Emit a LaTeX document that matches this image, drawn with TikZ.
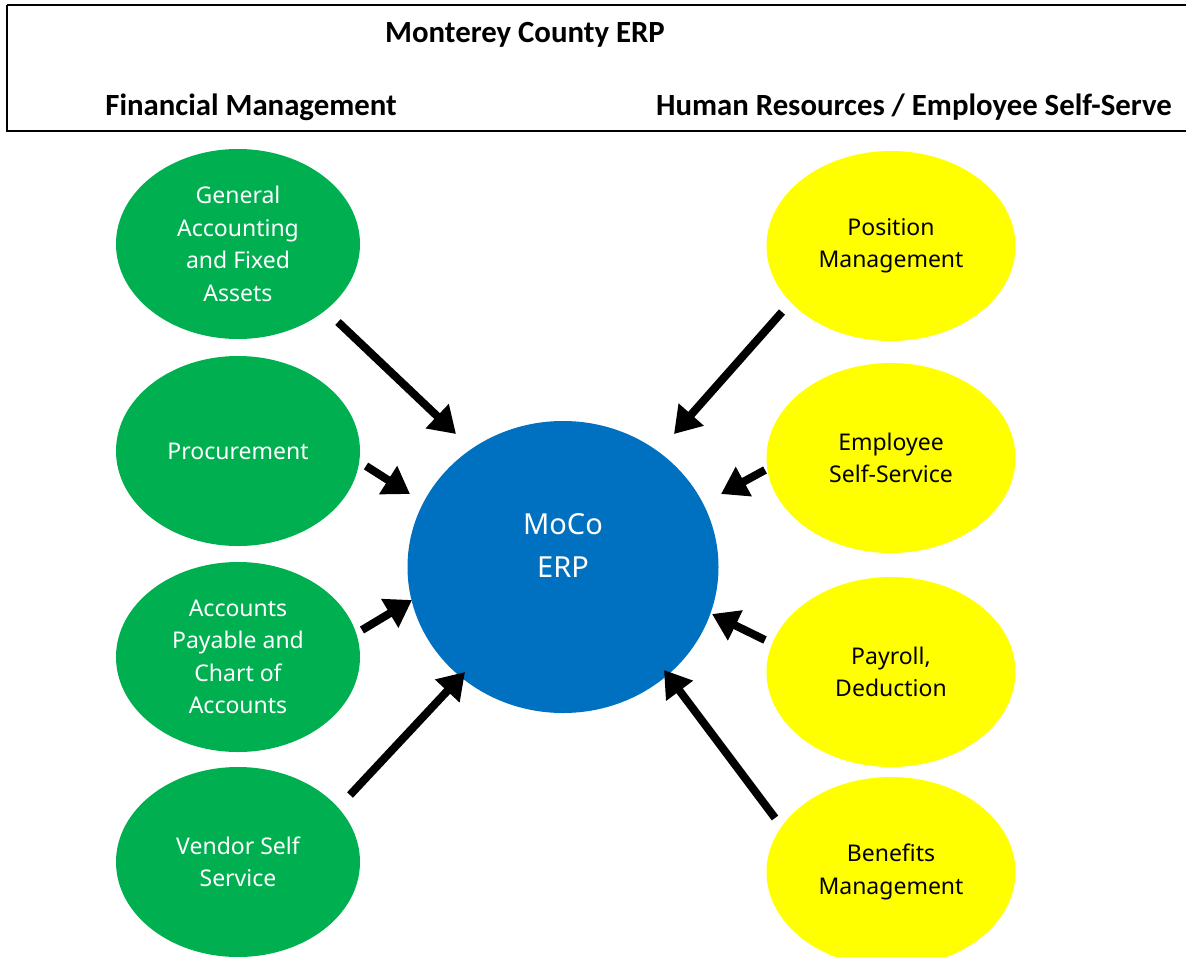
\documentclass[tikz,border=0pt]{standalone}
\usepackage{fontspec}
\setmainfont{Noto Sans}
\newfontfamily\headfont{Carlito}
\usetikzlibrary{arrows.meta,shapes.geometric}
\definecolor{fgreen}{HTML}{00B050}
\definecolor{fblue}{HTML}{0070C0}
\definecolor{fyellow}{HTML}{FFFF00}
\begin{document}
\begin{tikzpicture}[x=1pt,y=-1pt,
  oval/.style={ellipse,minimum width=244pt,minimum height=190pt,inner sep=0pt,align=center,
    font=\fontsize{23}{32.5}\selectfont},
  greenoval/.style={oval,fill=fgreen,text=white},
  yellowoval/.style={oval,fill=fyellow,text=black},
  hdr/.style={font=\headfont\bfseries\fontsize{30.8}{34}\selectfont,inner sep=0pt},
  arr/.style={line width=8pt,-{Triangle[length=26pt,width=32pt]}}]
\useasboundingbox (0,0) rectangle (1186,956);
\fill[white] (0,0) rectangle (1186,956);
\draw[line width=1.5pt] (7,5) -- (1195,5) (7,5) -- (7,131) -- (1195,131);
\node[hdr] (title) at (525,35) {Monterey County ERP};
\node[hdr] (fin) at (251,107) {Financial Management};
\node[hdr] (hr) at (914,107) {Human Resources / Employee Self-Serve};
\node[greenoval] (g1) at (238,244) {General\\Accounting\\and Fixed\\Assets};
\node[greenoval] (g2) at (238,451) {Procurement};
\node[greenoval] (g3) at (238,657) {Accounts\\Payable and\\Chart of\\Accounts};
\node[greenoval] (g4) at (238,862) {Vendor Self\\Service};
\node[ellipse,fill=fblue,text=white,minimum width=311pt,minimum height=292pt,inner sep=0pt,align=center,
  font=\fontsize{29}{43}\selectfont] (erp) at (563,567) {MoCo\\ERP\\\mbox{}};
\node[yellowoval,minimum width=249pt] (y1) at (891,246) {Position\\Management};
\node[yellowoval,minimum width=249pt] (y2) at (891,458) {Employee\\Self-Service};
\node[yellowoval,minimum width=249pt] (y3) at (891,672) {Payroll,\\Deduction};
\node[yellowoval,minimum width=249pt] (y4) at (891,872) {Benefits\\Management};
\coordinate (a1s) at (338,322); \coordinate (a1e) at (456,434);
\coordinate (a2s) at (366,466); \coordinate (a2e) at (410,494);
\coordinate (a3s) at (362,630); \coordinate (a3e) at (412,600);
\coordinate (a4s) at (350,795); \coordinate (a4e) at (465,672);
\coordinate (b1s) at (782,312); \coordinate (b1e) at (674,434);
\coordinate (b2s) at (765,470); \coordinate (b2e) at (721,494);
\coordinate (b3s) at (765,640); \coordinate (b3e) at (712,614);
\coordinate (b4s) at (775,818); \coordinate (b4e) at (664,670);
\draw[arr] (a1s) -- (a1e);
\draw[arr] (a2s) -- (a2e);
\draw[arr] (a3s) -- (a3e);
\draw[arr] (a4s) -- (a4e);
\draw[arr] (b1s) -- (b1e);
\draw[arr] (b2s) -- (b2e);
\draw[arr] (b3s) -- (b3e);
\draw[arr] (b4s) -- (b4e);
\end{tikzpicture}
\end{document}
